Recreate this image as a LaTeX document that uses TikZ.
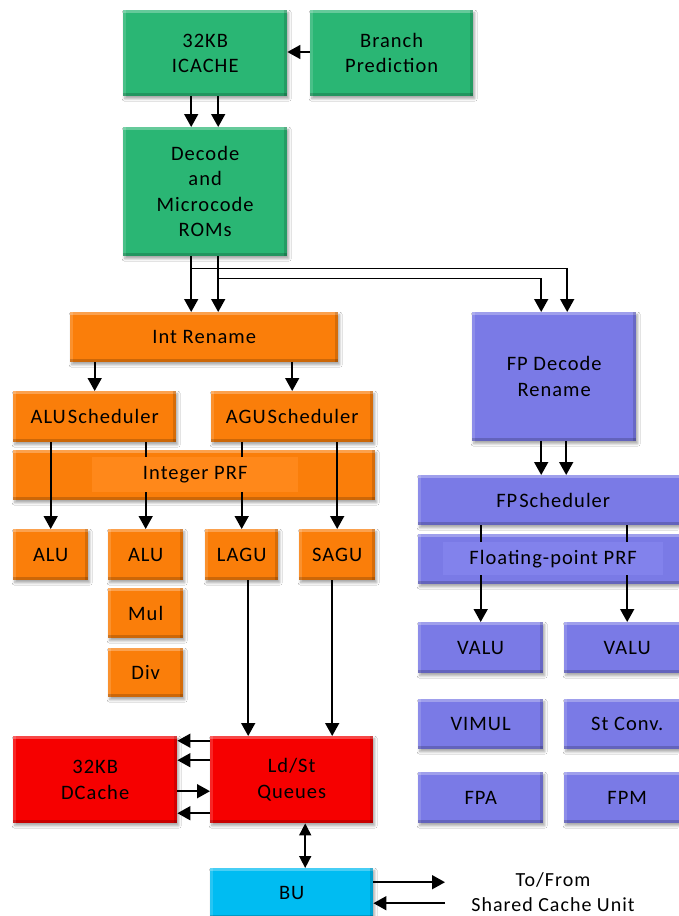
\documentclass[tikz,border=0pt]{standalone}
\usepackage{fontspec}
\setmainfont{Carlito}[LetterSpace=5]
\usetikzlibrary{arrows.meta,shadows.blur}

\definecolor{cgreen}{RGB}{42,182,116}
\definecolor{corange}{RGB}{250,126,10}
\definecolor{corangein}{RGB}{255,136,26}
\definecolor{cviolet}{RGB}{122,122,230}
\definecolor{cvioletin}{RGB}{130,130,236}
\definecolor{cred}{RGB}{246,0,0}
\definecolor{ccyan}{RGB}{0,188,242}

\tikzset{
  blk/.style={rectangle, inner sep=0pt, anchor=north west, align=center,
    font=\fontsize{20.5}{25.5}\selectfont,
    blur shadow={shadow xshift=1.5pt, shadow yshift=-2.5pt,
      shadow blur radius=2.5pt, shadow opacity=35},
    path picture={
      \fill[white,opacity=.28] (path picture bounding box.north west) rectangle ([yshift=-3pt]path picture bounding box.north east);
      \fill[white,opacity=.15] (path picture bounding box.north west) rectangle ([xshift=3pt]path picture bounding box.south west);
      \fill[black,opacity=.18] (path picture bounding box.south west) rectangle ([yshift=3pt]path picture bounding box.south east);
      \fill[black,opacity=.14] (path picture bounding box.north east) rectangle ([xshift=-3pt]path picture bounding box.south east);
    }},
  inblk/.style={rectangle, inner sep=0pt, anchor=north west, align=center,
    font=\fontsize{20.5}{25.5}\selectfont},
  arr/.style={-{Triangle[length=13pt,width=14pt]}, line width=1.6pt},
  darr/.style={{Triangle[length=12pt,width=12pt]}-{Triangle[length=12pt,width=12pt]}, line width=1.6pt},
  lbl/.style={align=center, font=\fontsize{20}{25}\selectfont},
}

\begin{document}
\begin{tikzpicture}[x=1pt,y=-1pt]
\fill[white] (0,0) rectangle (678,916);
\useasboundingbox (0,0) rectangle (678,916);

% front end
\node[blk, fill=cgreen, minimum width=164, minimum height=86] (icache) at (123,10) {32KB\\ICACHE};
\node[blk, fill=cgreen, minimum width=163, minimum height=86] (bp) at (310,10) {Branch\\Prediction};
\node[blk, fill=cgreen, minimum width=164, minimum height=129] (decode) at (123,127) {Decode\\and\\Microcode\\ROMs};

% integer side
\node[blk, fill=corange, minimum width=268, minimum height=50] (intren) at (70,312) {Int Rename};
\node[blk, fill=corange, minimum width=163, minimum height=51] (alus) at (13,391) {ALU\kern2pt Scheduler};
\node[blk, fill=corange, minimum width=162, minimum height=51] (agus) at (211,391) {AGU\kern2pt Scheduler};
\node[blk, fill=corange, minimum width=362, minimum height=50] (iprf) at (13,450) {};
\node[blk, fill=corange, minimum width=75, minimum height=51] (alu1) at (13,529) {ALU};
\node[blk, fill=corange, minimum width=75, minimum height=51] (alu2) at (108,529) {ALU};
\node[blk, fill=corange, minimum width=73, minimum height=51] (lagu) at (205,529) {LAGU};
\node[blk, fill=corange, minimum width=76, minimum height=51] (sagu) at (299,529) {SAGU};
\node[blk, fill=corange, minimum width=75, minimum height=50] (mul) at (108,588) {Mul};
\node[blk, fill=corange, minimum width=75, minimum height=49] (div) at (108,648) {Div};

% memory side
\node[blk, fill=cred, minimum width=164, minimum height=87] (dcache) at (13,736) {32KB\\DCache};
\node[blk, fill=cred, minimum width=163, minimum height=87] (ldst) at (210,736) {Ld/St\\Queues};
\node[blk, fill=ccyan, minimum width=163, minimum height=50] (bu) at (210,868) {BU};
\node[lbl] (scu) at (553,892) {To/From\\Shared Cache Unit};
\coordinate (scuend) at (445,893);

% floating point side
\node[blk, fill=cviolet, minimum width=164, minimum height=129] (fpdec) at (472,312) {FP Decode\\Rename};
\node[blk, fill=cviolet, minimum width=270, minimum height=50] (fpsch) at (418,475) {FP\kern2pt Scheduler};
\node[blk, fill=cviolet, minimum width=270, minimum height=50] (fprf) at (418,534) {};
\node[blk, fill=cviolet, minimum width=125, minimum height=51] (valu1) at (418,622) {VALU};
\node[blk, fill=cviolet, minimum width=126, minimum height=51] (valu2) at (564,622) {VALU};
\node[blk, fill=cviolet, minimum width=125, minimum height=50] (vimul) at (418,699) {VIMUL};
\node[blk, fill=cviolet, minimum width=126, minimum height=50] (stconv) at (564,699) {St Conv.};
\node[blk, fill=cviolet, minimum width=125, minimum height=51] (fpa) at (418,772) {FPA};
\node[blk, fill=cviolet, minimum width=126, minimum height=51] (fpm) at (564,772) {FPM};

% front-end connectors
\draw[arr] (bp.west |- 0,52) -- (icache.east |- 0,52);
\draw[arr] ([xshift=-14pt]icache.south) -- ([xshift=-14pt]decode.north);
\draw[arr] ([xshift=13pt]icache.south) -- ([xshift=13pt]decode.north);
\draw[arr] ([xshift=-14pt]decode.south) -- ([xshift=-14pt]decode.south |- intren.north);
\draw[arr] ([xshift=13pt]decode.south) -- ([xshift=13pt]decode.south |- intren.north);
\draw[arr] ([xshift=-14pt,yshift=-12pt]decode.south) -| ([xshift=13pt]fpdec.north);
\draw[arr] ([xshift=13pt,yshift=-22pt]decode.south) -| ([xshift=-13pt]fpdec.north);

% integer connectors
\draw[arr] (intren.south -| alus.north) -- (alus.north);
\draw[arr] (intren.south -| agus.north) -- (agus.north);
\draw[arr] (alus.south -| alu1.north) -- (alu1.north);
\draw[arr] (alus.south -| alu2.north) -- (alu2.north);
\draw[arr] (agus.south -| lagu.north) -- (lagu.north);
\draw[arr] (agus.south -| sagu.north) -- (sagu.north);
\draw[arr] ([xshift=6.5pt]lagu.south) -- ([xshift=6.5pt]lagu.south |- ldst.north);
\draw[arr] ([xshift=-5pt]sagu.south) -- ([xshift=-5pt]sagu.south |- ldst.north);

% load/store connectors
\draw[arr] ([yshift=39pt]ldst.west) -- ([yshift=39pt]ldst.west -| dcache.east);
\draw[arr] ([yshift=19.5pt]ldst.west) -- ([yshift=19.5pt]ldst.west -| dcache.east);
\draw[arr] ([yshift=-11.5pt]dcache.east) -- ([yshift=-11.5pt]dcache.east -| ldst.west);
\draw[arr] ([yshift=-33.5pt]ldst.west) -- ([yshift=-33.5pt]ldst.west -| dcache.east);
\draw[darr] ([xshift=13.5pt]ldst.south) -- ([xshift=13.5pt]ldst.south |- bu.north);
\draw[arr] ([yshift=11pt]bu.east) -- ([yshift=11pt]bu.east -| scuend);
\draw[arr] ([yshift=-10pt]bu.east -| scuend) -- ([yshift=-10pt]bu.east);

% floating point connectors
\draw[arr] ([xshift=-13pt]fpdec.south) -- ([xshift=-13pt]fpdec.south |- fpsch.north);
\draw[arr] ([xshift=12pt]fpdec.south) -- ([xshift=12pt]fpdec.south |- fpsch.north);
\draw[arr] (fpsch.south -| valu1.north) -- (valu1.north);
\draw[arr] (fpsch.south -| valu2.north) -- (valu2.north);

% register file panels, laid over the lines that cross them
\node[inblk, fill=corangein, minimum width=206, minimum height=35] (iprfin) at (92,457) {Integer PRF};
\node[inblk, fill=cvioletin, minimum width=220, minimum height=33] (fprfin) at (443,542) {Floating-point PRF};
\end{tikzpicture}
\end{document}
